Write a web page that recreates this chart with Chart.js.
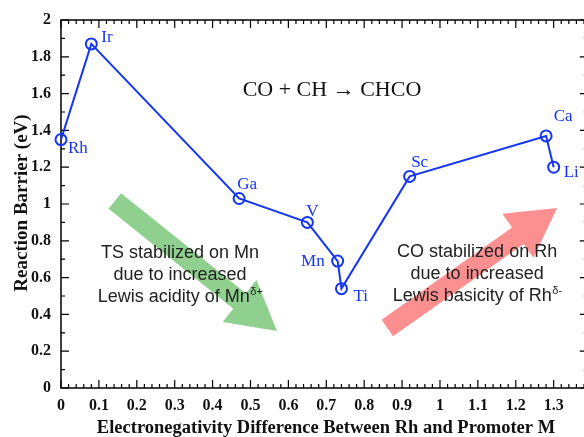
<!DOCTYPE html>
<html>
<head>
<meta charset="utf-8">
<script src="https://cdn.jsdelivr.net/npm/chart.js@4.4.0/dist/chart.umd.min.js"></script>
<style>
html,body{margin:0;padding:0;background:#fff;overflow:hidden;}
#wrap{width:584px;height:437px;}
</style>
</head>
<body>
<div id="wrap"><canvas id="chart"></canvas></div>
<script>
// promoter metals and their values
const metals  = ["Rh", "Ir", "Ga", "V", "Mn", "Ti", "Sc", "Ca", "Li"];
const enDiff  = [0, 0.08, 0.47, 0.65, 0.73, 0.74, 0.92, 1.28, 1.30];
const barrier = [1.35, 1.87, 1.03, 0.90, 0.69, 0.54, 1.15, 1.37, 1.20];

// label placement (pixel offsets from the marker, text align)
const labelPos = [
    [7, 9, "left"], [10, -6, "left"], [8, -14, "center"], [5, -11, "center"],
    [-13, 0, "right"], [12, 8, "left"], [10, -14, "center"], [17, -19, "center"], [10, 5, "left"]
];

const BLUE = "#1535f4";
const SERIF = "'Liberation Serif', 'Times New Roman', serif";
const SANS = "'Liberation Sans', Arial, sans-serif";
const X_FRAME = 1.39; // right frame sits just past the window edge

// arrows in data units: [x0, y0, x1, y1, colour]
const arrows = [
    [0.142, 1.016, 0.570, 0.310, "#8fd08f"],
    [0.861, 0.326, 1.309, 0.978, "#fc8f8f"]
];

function drawArrow(ctx, x0, y0, x1, y1, sw, hw, hl, color){
    let dx = x1 - x0, dy = y1 - y0, L = Math.hypot(dx, dy);
    let ux = dx / L, uy = dy / L, px = -uy, py = ux;
    let bx = x1 - ux * hl, by = y1 - uy * hl;
    ctx.beginPath();
    ctx.moveTo(x0 + px * sw / 2, y0 + py * sw / 2);
    ctx.lineTo(bx + px * sw / 2, by + py * sw / 2);
    ctx.lineTo(bx + px * hw / 2, by + py * hw / 2);
    ctx.lineTo(x1, y1);
    ctx.lineTo(bx - px * hw / 2, by - py * hw / 2);
    ctx.lineTo(bx - px * sw / 2, by - py * sw / 2);
    ctx.lineTo(x0 - px * sw / 2, y0 - py * sw / 2);
    ctx.closePath();
    ctx.fillStyle = color;
    ctx.fill();
}

function textBlock(ctx, lines, cx, cy, sup){
    ctx.fillStyle = "#222";
    ctx.textBaseline = "middle";
    lines.forEach((t, i) => {
        let y = cy + i * 22;
        if (i == lines.length - 1){
            ctx.font = "18px " + SANS;
            let w1 = ctx.measureText(t).width;
            ctx.font = "11px " + SANS;
            let w2 = ctx.measureText(sup).width;
            let x = cx - (w1 + w2) / 2;
            ctx.textAlign = "left";
            ctx.font = "18px " + SANS;
            ctx.fillText(t, x, y);
            ctx.font = "11px " + SANS;
            ctx.fillText(sup, x + w1 + 0.5, y - 5);
        } else {
            ctx.font = "18px " + SANS;
            ctx.textAlign = "center";
            ctx.fillText(t, cx, y);
        }
    });
}

const decor = {
    id: "decor",
    beforeDatasetsDraw(chart){
        let ctx = chart.ctx, xs = chart.scales.x, ys = chart.scales.y;
        ctx.save();
        arrows.forEach(a => {
            drawArrow(ctx, xs.getPixelForValue(a[0]), ys.getPixelForValue(a[1]),
                xs.getPixelForValue(a[2]), ys.getPixelForValue(a[3]), 20, 54, 48, a[4]);
        });
        textBlock(ctx, ["TS stabilized on Mn", "due to increased", "Lewis acidity of Mn"],
            xs.getPixelForValue(0.314), ys.getPixelForValue(0.734), "\u03B4+");
        textBlock(ctx, ["CO stabilized on Rh", "due to increased", "Lewis basicity of Rh"],
            xs.getPixelForValue(1.098), ys.getPixelForValue(0.739), "\u03B4-");

        // reaction text
        ctx.fillStyle = "#111";
        ctx.font = "22px " + SERIF;
        ctx.textAlign = "center";
        ctx.textBaseline = "middle";
        ctx.fillText("CO + CH \u2192 CHCO", xs.getPixelForValue(0.715), ys.getPixelForValue(1.62));

        // frame + inward ticks
        let a = chart.chartArea;
        let right = xs.getPixelForValue(X_FRAME);
        ctx.strokeStyle = "#000";
        ctx.lineWidth = 1.5;
        ctx.strokeRect(a.left, a.top, right - a.left, a.bottom - a.top);
        ctx.lineWidth = 1.2;
        ctx.beginPath();
        for (let i = 0; i <= 70; i++){
            let v = i * 0.02;
            if (v > X_FRAME) break;
            let px = xs.getPixelForValue(v);
            let len = (i % 5 == 0) ? 8 : 4;
            ctx.moveTo(px, a.bottom); ctx.lineTo(px, a.bottom - len);
            ctx.moveTo(px, a.top); ctx.lineTo(px, a.top + len);
        }
        for (let i = 0; i <= 20; i++){
            let py = ys.getPixelForValue(i * 0.1);
            let len = (i % 2 == 0) ? 8 : 4;
            ctx.moveTo(a.left, py); ctx.lineTo(a.left + len, py);
            ctx.moveTo(right, py); ctx.lineTo(right - len, py);
        }
        ctx.stroke();

        // axis titles
        ctx.fillStyle = "#111";
        ctx.font = "bold 18.5px " + SERIF;
        ctx.textAlign = "center";
        ctx.fillText("Electronegativity Difference Between Rh and Promoter M", 326, 428);
        ctx.save();
        ctx.translate(22, 203);
        ctx.rotate(-Math.PI / 2);
        ctx.font = "bold 19px " + SERIF;
        ctx.fillText("Reaction Barrier (eV)", 0, 0);
        ctx.restore();
        ctx.restore();
    },
    afterDatasetsDraw(chart){
        let ctx = chart.ctx;
        let pts = chart.getDatasetMeta(0).data;
        ctx.save();
        ctx.fillStyle = BLUE;
        ctx.font = "17px " + SERIF;
        ctx.textBaseline = "middle";
        pts.forEach((p, i) => {
            ctx.textAlign = labelPos[i][2];
            ctx.fillText(metals[i], p.x + labelPos[i][0], p.y + labelPos[i][1]);
        });
        ctx.restore();
    }
};

function fmt(v){
    let r = Math.round(v * 10) / 10;
    return Number.isInteger(r) ? String(r) : r.toFixed(1);
}

new Chart(document.getElementById("chart"), {
    type: "scatter",
    data: {
        datasets: [{
            data: enDiff.map((x, i) => ({x: x, y: barrier[i]})),
            showLine: true,
            borderColor: BLUE,
            borderWidth: 2,
            pointRadius: 5.5,
            pointBorderWidth: 2,
            pointBorderColor: BLUE,
            pointBackgroundColor: "rgba(0,0,0,0)",
            clip: false
        }]
    },
    plugins: [decor],
    options: {
        responsive: true,
        maintainAspectRatio: false,
        animation: false,
        layout: { autoPadding: false, padding: { top: 20, right: 0, left: 0, bottom: 0 } },
        plugins: { legend: { display: false }, tooltip: { enabled: false } },
        scales: {
            x: {
                type: "linear", min: 0, max: 1.38,
                grid: { display: false, drawTicks: false },
                border: { display: false },
                afterBuildTicks: s => { s.ticks = []; for (let i = 0; i <= 13; i++) s.ticks.push({value: i / 10}); },
                afterFit: s => { s.height = 49; },
                ticks: { padding: 8, color: "#111", font: { family: SERIF, size: 16, weight: "bold" }, callback: v => fmt(v), maxRotation: 0, autoSkip: false }
            },
            y: {
                type: "linear", min: 0, max: 2,
                grid: { display: false, drawTicks: false },
                border: { display: false },
                afterBuildTicks: s => { s.ticks = []; for (let i = 0; i <= 10; i++) s.ticks.push({value: i / 5}); },
                afterFit: s => { s.width = 61; },
                ticks: { padding: 10, color: "#111", font: { family: SERIF, size: 16, weight: "bold" }, callback: v => fmt(v), autoSkip: false }
            }
        }
    }
});
</script>
</body>
</html>
